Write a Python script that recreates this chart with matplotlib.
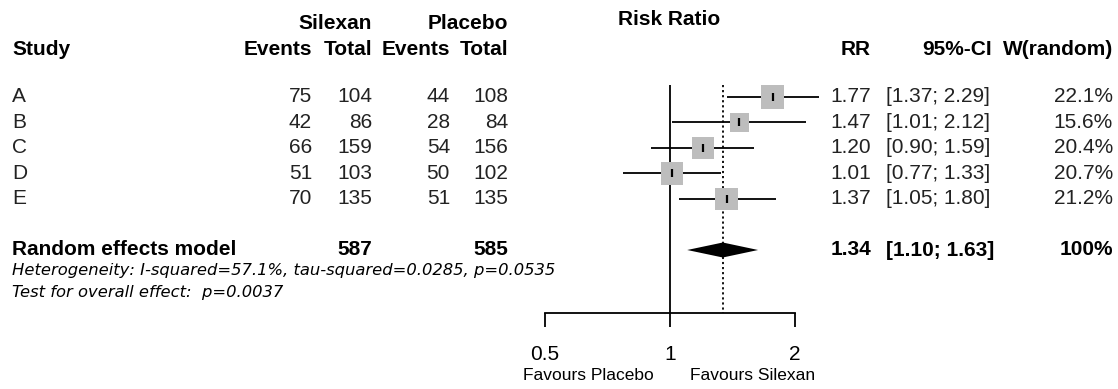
import numpy as np
import matplotlib
matplotlib.use("Agg")
import matplotlib.pyplot as plt
from matplotlib.ticker import NullLocator

plt.rcParams['font.family'] = ['Liberation Sans', 'DejaVu Sans']

# data
studies = ['A', 'B', 'C', 'D', 'E']
events_silexan = [75, 42, 66, 51, 70]
total_silexan = [104, 86, 159, 103, 135]
events_placebo = [44, 28, 54, 50, 51]
total_placebo = [108, 84, 156, 102, 135]
rr = [1.77, 1.47, 1.20, 1.01, 1.37]
ci_lo = [1.37, 1.01, 0.90, 0.77, 1.05]
ci_hi = [2.29, 2.12, 1.59, 1.33, 1.80]
weights = [22.1, 15.6, 20.4, 20.7, 21.2]

pooled_rr, pooled_lo, pooled_hi = 1.34, 1.10, 1.63
pooled_total_silexan, pooled_total_placebo = 587, 585
heterogeneity = "Heterogeneity: I-squared=57.1%, tau-squared=0.0285, p=0.0535"
overall_test = "Test for overall effect:  p=0.0037"
x_ticks = [0.5, 1, 2]
x_ticklabels = ['0.5', '1', '2']

W, H = 1118, 389
ROW_PX, FIRST_PX = 25.5, 97
y_top = 1 - FIRST_PX / ROW_PX
y_bot = 1 + (H - FIRST_PX) / ROW_PX


def px_row(p):
    # pixel height -> row units
    return 1 + (p - FIRST_PX) / ROW_PX


fig = plt.figure(figsize=(W / 100, H / 100), dpi=100)

# text layer, x in pixels, y in rows
tab = fig.add_axes([0, 0, 1, 1])
tab.set_xlim(0, W)
tab.set_ylim(y_bot, y_top)
tab.axis('off')

# forest layer, log x
ax = fig.add_axes([520 / W, 0, 330 / W, 1])
ax.set_xscale('log')
ax.set_xlim(0.5 * 2 ** (-25 / 125), 2 * 2 ** (55 / 125))
ax.set_ylim(y_bot, y_top)
ax.patch.set_alpha(0)

rows = np.arange(1, len(studies) + 1)
pooled_row = len(studies) + 2
axis_row = px_row(313)
line_top = px_row(85)
lw = 1.3

ax.vlines(1, line_top, axis_row, color='black', lw=lw, zorder=1)
ax.vlines(pooled_rr, line_top, axis_row, color='black', lw=lw,
          linestyles=(0, (1.2, 1.6)), zorder=1)
ax.hlines(rows, ci_lo, ci_hi, color='black', lw=lw, zorder=2)
side_pt = 4.9 * np.sqrt(weights) * 0.72
ax.scatter(rr, rows, s=side_pt ** 2, marker='s', color='#bdbdbd',
           linewidths=0, zorder=3)
ax.scatter(rr, rows, s=36, marker='|', color='black', linewidths=1.6, zorder=4)

dh = 7.5 / ROW_PX
ax.fill([pooled_lo, pooled_rr, pooled_hi, pooled_rr],
        [pooled_row, pooled_row - dh, pooled_row, pooled_row + dh],
        color='black', lw=0, zorder=3)

for s in ['top', 'right', 'left']:
    ax.spines[s].set_visible(False)
ax.spines['bottom'].set_position(('data', axis_row))
ax.spines['bottom'].set_bounds(0.5, 2)
ax.spines['bottom'].set_linewidth(lw)
ax.set_yticks([])
ax.set_xticks(x_ticks)
ax.set_xticklabels(x_ticklabels)
ax.xaxis.set_minor_locator(NullLocator())
ax.tick_params(axis='x', direction='out', length=10, width=lw, pad=13,
               labelsize=15)

fs = 15
bold = dict(fontsize=fs, fontweight='bold', va='center')
norm = dict(fontsize=fs, va='center', color='#222222')
hrow1 = px_row(24)
hrow2 = px_row(50)
rr_row = px_row(20)

tab.text(372, hrow1, 'Silexan', ha='right', **bold)
tab.text(508, hrow1, 'Placebo', ha='right', **bold)
tab.text(618, rr_row, 'Risk Ratio', ha='left', **bold)
tab.text(12, hrow2, 'Study', ha='left', **bold)
tab.text(312, hrow2, 'Events', ha='right', **bold)
tab.text(372, hrow2, 'Total', ha='right', **bold)
tab.text(450, hrow2, 'Events', ha='right', **bold)
tab.text(508, hrow2, 'Total', ha='right', **bold)
tab.text(871, hrow2, 'RR', ha='right', **bold)
tab.text(992, hrow2, '95%-CI', ha='right', **bold)
tab.text(1113, hrow2, 'W(random)', ha='right', **bold)

for i, r in enumerate(rows):
    tab.text(12, r, studies[i], ha='left', **norm)
    tab.text(312, r, str(events_silexan[i]), ha='right', **norm)
    tab.text(372, r, str(total_silexan[i]), ha='right', **norm)
    tab.text(450, r, str(events_placebo[i]), ha='right', **norm)
    tab.text(508, r, str(total_placebo[i]), ha='right', **norm)
    tab.text(871, r, f"{rr[i]:.2f}", ha='right', **norm)
    tab.text(886, r, f"[{ci_lo[i]:.2f}; {ci_hi[i]:.2f}]", ha='left', **norm)
    tab.text(1113, r, f"{weights[i]:.1f}%", ha='right', **norm)

tab.text(12, pooled_row, 'Random effects model', ha='left', **bold)
tab.text(372, pooled_row, str(pooled_total_silexan), ha='right', **bold)
tab.text(508, pooled_row, str(pooled_total_placebo), ha='right', **bold)
tab.text(871, pooled_row, f"{pooled_rr:.2f}", ha='right', **bold)
tab.text(886, pooled_row, f"[{pooled_lo:.2f}; {pooled_hi:.2f}]", ha='left', **bold)
tab.text(1113, pooled_row, '100%', ha='right', **bold)

small_it = dict(ha='left', va='center', fontsize=11.8, style='italic',
                family=['DejaVu Sans'])
tab.text(12, px_row(270), heterogeneity, **small_it)
tab.text(12, px_row(293), overall_test, **small_it)

fav_row = px_row(375)
tab.text(588, fav_row, 'Favours Placebo', ha='center', va='center', fontsize=12.5)
tab.text(753, fav_row, 'Favours Silexan', ha='center', va='center', fontsize=12.5)

fig.savefig('out.png', dpi=100)
